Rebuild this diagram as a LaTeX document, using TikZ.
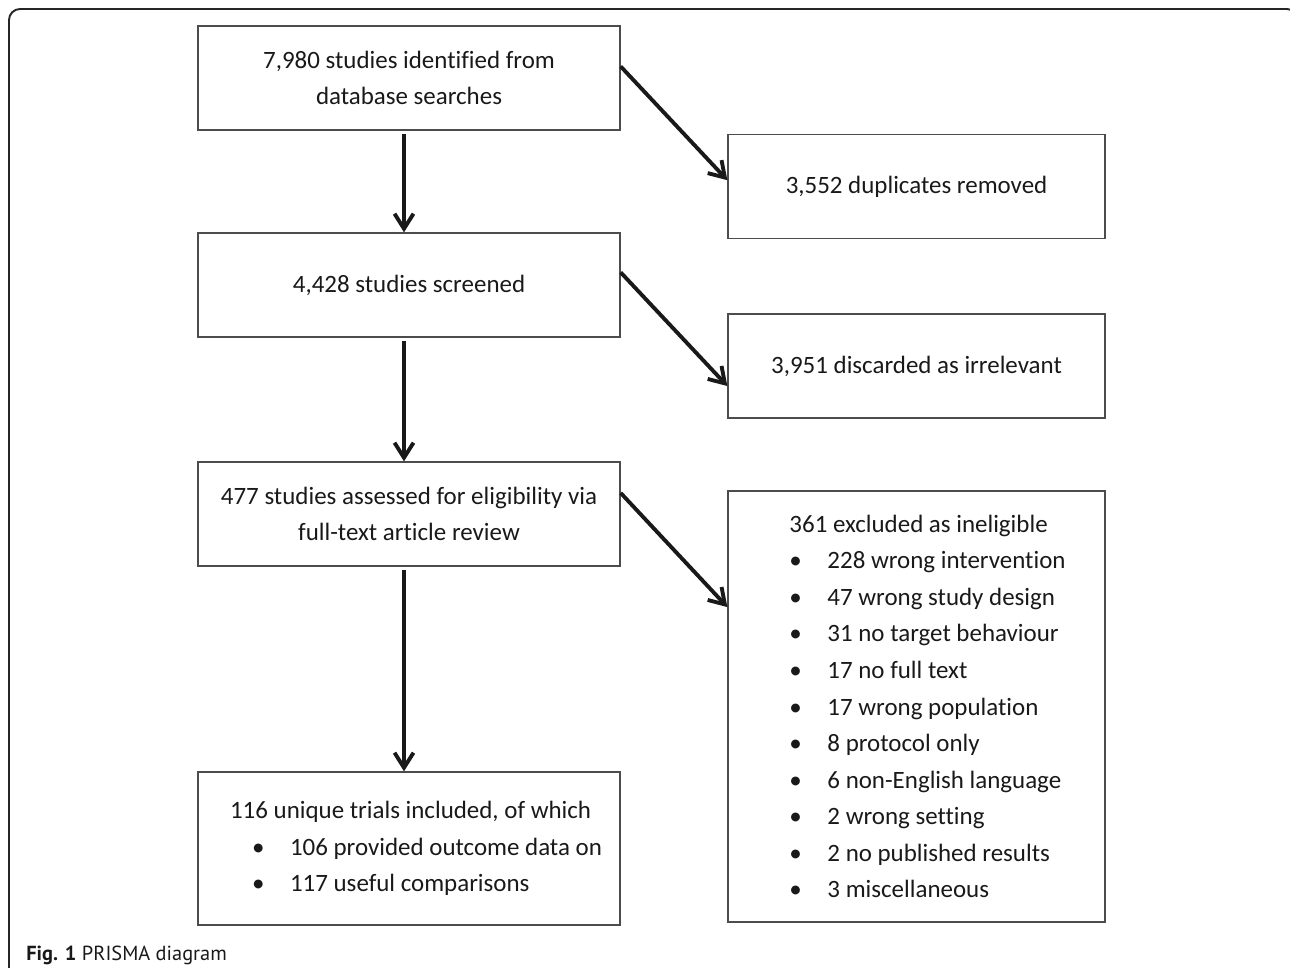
\documentclass[tikz,border=0pt]{standalone}
\usepackage{fontspec}
\setmainfont[Ligatures=NoCommon]{Carlito}
\newfontfamily\capfont{PT Sans}
\usetikzlibrary{arrows.meta,positioning,calc}
\newcommand{\lpad}[1]{\hspace*{#1}}
\newcommand{\bitem}[2]{\hspace*{#1}\makebox[0.76cm][l]{\textbullet}#2}

\begin{document}
\begin{tikzpicture}[
		x=0.02cm, y=-0.02cm,
		box/.style={draw=black!70, line width=0.8pt, minimum width=#1,
			minimum height=2.08cm, align=center, inner sep=0pt, text=black!90,
			font=\fontsize{14.2pt}{20.8pt}\selectfont},
		box/.default=8.44cm,
		arr/.style={-{Straight Barb[length=0.3cm,width=0.38cm]}, line width=2.2pt, black!90}
		]
		\useasboundingbox (0,0) rectangle (1290,967);
		\begin{scope}
			\clip (0,0) rectangle (1290,967);
			\draw[line width=1.1pt, black!85, rounded corners=0.22cm] (9,990) -- (9,9) -- (1298,9) -- (1298,990);
		\end{scope}
		
		\node[box]            (ident)  at (409,78)    {7,980 studies identified from \\ database searches};
		\node[box=7.54cm]     (dupl)   at (916.5,186.5) {3,552 duplicates removed};
		\node[box]            (screen) at (409,285)   {4,428 studies screened};
		\node[box=7.54cm]     (irrel)  at (916.5,366) {3,951 discarded as irrelevant};
		\node[box]            (elig)   at (409,514)   {477 studies assessed for eligibility via \\ full-text article review};
		\node[box=7.54cm, minimum height=8.62cm, align=left] (excl) at (916.5,706.5)
			{\lpad{0.44cm}361 excluded as ineligible \\
			 \bitem{0.44cm}{228 wrong intervention} \\
			 \bitem{0.44cm}{47 wrong study design} \\
			 \bitem{0.44cm}{31 no target behaviour} \\
			 \bitem{0.44cm}{17 no full text} \\
			 \bitem{0.44cm}{17 wrong population} \\
			 \bitem{0.44cm}{8 protocol only} \\
			 \bitem{0.44cm}{6 non-English language} \\
			 \bitem{0.44cm}{2 wrong setting} \\
			 \bitem{0.44cm}{2 no published results} \\
			 \bitem{0.44cm}{3 miscellaneous}};
		\node[box, minimum height=3.06cm, align=left] (incl) at (409,848.5)
			{\lpad{0.28cm}116 unique trials included, of which \\
			 \bitem{0.72cm}{106 provided outcome data on} \\
			 \bitem{0.72cm}{117 useful comparisons}};
		\node[anchor=base west, inner sep=0pt, text=black!90,
			font=\capfont\fontsize{11.6pt}{14pt}\selectfont] (caption) at (26,960)
			{\textbf{Fig. 1} PRISMA diagram};
		
		\draw[arr, shorten <=0.06cm] ([xshift=-0.1cm]ident.south)  -- ([xshift=-0.1cm]screen.north);
		\draw[arr, shorten <=0.06cm] ([xshift=-0.1cm]screen.south) -- ([xshift=-0.1cm]elig.north);
		\draw[arr, shorten <=0.06cm] ([xshift=-0.1cm]elig.south)   -- ([xshift=-0.1cm]incl.north);
		\draw[arr] ($(ident.north east)!0.39!(ident.south east)$)   -- ($(dupl.north west)!0.44!(dupl.south west)$);
		\draw[arr] ($(screen.north east)!0.38!(screen.south east)$) -- ($(irrel.north west)!0.69!(irrel.south west)$);
		\draw[arr] ($(elig.north east)!0.30!(elig.south east)$)     -- ($(excl.north west)!0.27!(excl.south west)$);
	\end{tikzpicture}
\end{document}
